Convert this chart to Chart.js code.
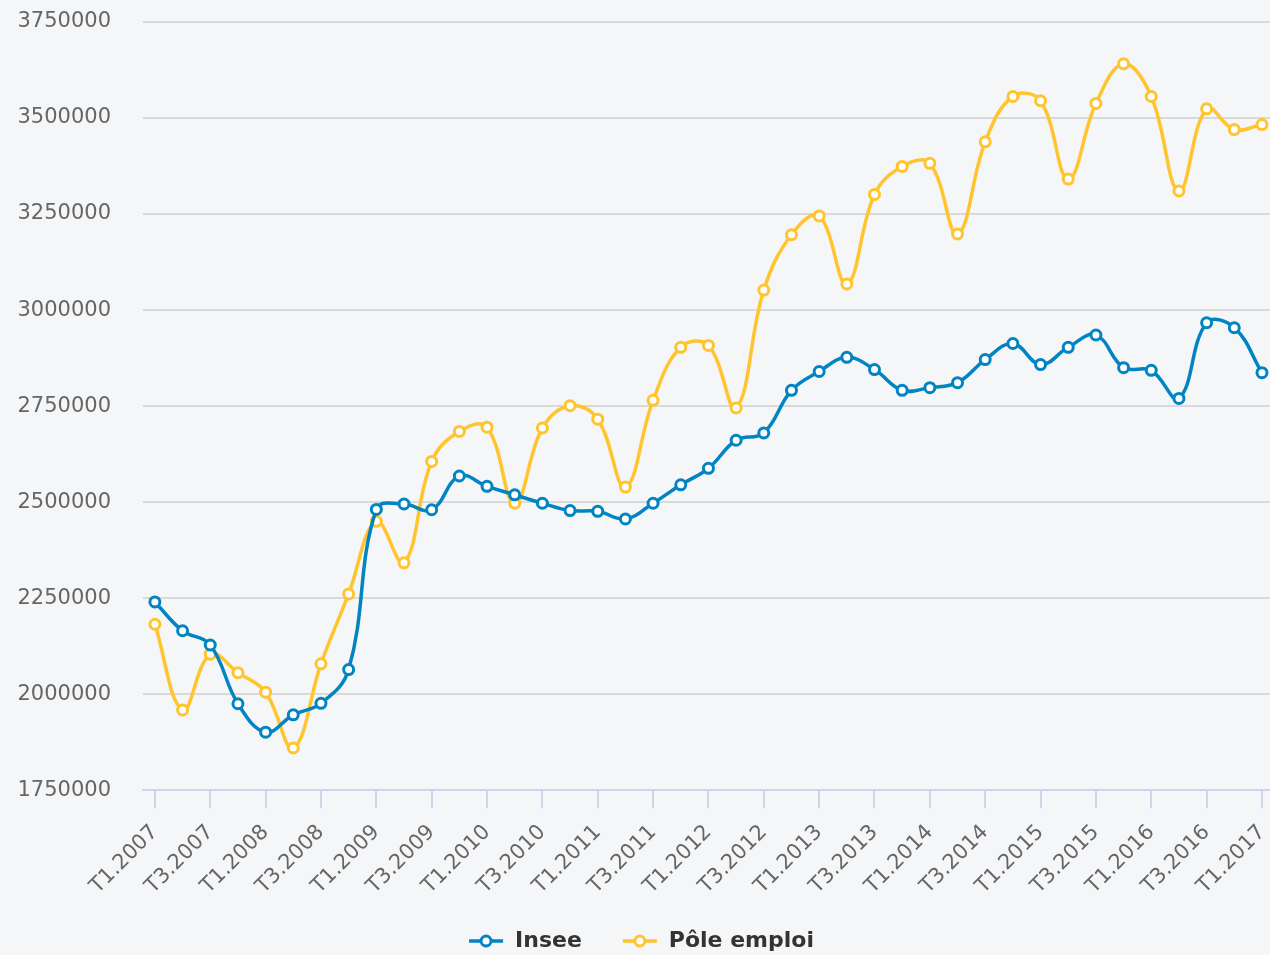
<!DOCTYPE html>
<html>
<head>
<meta charset="utf-8">
<script src="https://cdn.jsdelivr.net/npm/chart.js@4/dist/chart.umd.min.js"></script>
<style>
  html, body { margin: 0; padding: 0; background: #f5f6f8; }
  #wrap { width: 1270px; height: 955px; position: relative; }
</style>
</head>
<body>
<div id="wrap"><canvas id="c" width="1270" height="955"></canvas></div>
<script>
const categories = [
  'T1.2007','T2.2007','T3.2007','T4.2007',
  'T1.2008','T2.2008','T3.2008','T4.2008',
  'T1.2009','T2.2009','T3.2009','T4.2009',
  'T1.2010','T2.2010','T3.2010','T4.2010',
  'T1.2011','T2.2011','T3.2011','T4.2011',
  'T1.2012','T2.2012','T3.2012','T4.2012',
  'T1.2013','T2.2013','T3.2013','T4.2013',
  'T1.2014','T2.2014','T3.2014','T4.2014',
  'T1.2015','T2.2015','T3.2015','T4.2015',
  'T1.2016','T2.2016','T3.2016','T4.2016',
  'T1.2017'
];
const insee = [
  2240000, 2165000, 2128000, 1975000,
  1901000, 1946000, 1976000, 2064000,
  2481000, 2495000, 2480000, 2568000,
  2541000, 2519000, 2497000, 2478000,
  2476000, 2456000, 2497000, 2545000,
  2588000, 2661000, 2680000, 2791000,
  2840000, 2877000, 2845000, 2791000,
  2798000, 2811000, 2871000, 2913000,
  2858000, 2903000, 2935000, 2850000,
  2843000, 2770000, 2967000, 2954000,
  2837000
];
const poleEmploi = [
  2182000, 1959000, 2104000, 2056000,
  2005000, 1860000, 2079000, 2261000,
  2450000, 2342000, 2606000, 2684000,
  2695000, 2497000, 2693000, 2751000,
  2716000, 2539000, 2765000, 2903000,
  2908000, 2745000, 3052000, 3196000,
  3245000, 3068000, 3301000, 3374000,
  3382000, 3198000, 3438000, 3556000,
  3545000, 3341000, 3538000, 3641000,
  3556000, 3310000, 3524000, 3470000,
  3483000
];
const yTicks = [1750000, 2000000, 2250000, 2500000, 2750000, 3000000, 3250000, 3500000, 3750000];
const seriesNames = ['Insee', 'Pôle emploi'];
const colors = ['#0084c2', '#ffc42e'];

function legendSymbol(color) {
  const cv = document.createElement('canvas');
  cv.width = 36; cv.height = 16;
  const g = cv.getContext('2d');
  g.strokeStyle = color; g.lineWidth = 3.5;
  g.beginPath(); g.moveTo(1, 8); g.lineTo(35, 8); g.stroke();
  g.beginPath(); g.arc(18, 8, 5, 0, Math.PI * 2);
  g.fillStyle = '#ffffff'; g.fill();
  g.lineWidth = 3; g.stroke();
  return cv;
}
const symbols = colors.map(legendSymbol);

function makeDataset(name, values, color) {
  return {
    label: name,
    data: values.map((v, i) => ({ x: i, y: v })),
    borderColor: color,
    backgroundColor: color,
    borderWidth: 3.5,
    tension: 0.4,
    pointRadius: 5,
    pointHoverRadius: 5,
    pointBorderWidth: 3,
    pointBackgroundColor: '#ffffff',
    pointBorderColor: color,
    clip: false
  };
}

const FONT = '"DejaVu Sans", "Liberation Sans", sans-serif';

new Chart(document.getElementById('c'), {
  type: 'line',
  data: {
    datasets: [
      makeDataset(seriesNames[0], insee, colors[0]),
      makeDataset(seriesNames[1], poleEmploi, colors[1])
    ]
  },
  options: {
    responsive: false,
    animation: false,
    layout: { autoPadding: false, padding: { top: 22, right: 0, left: 12, bottom: -7 } },
    plugins: {
      tooltip: { enabled: false },
      legend: {
        position: 'bottom',
        align: 'center',
        labels: {
          usePointStyle: true,
          pointStyleWidth: 36,
          padding: 40,
          color: '#333333',
          font: { family: FONT, size: 22, weight: 'bold' },
          generateLabels(chart) {
            return chart.data.datasets.map((ds, i) => ({
              text: ds.label,
              fillStyle: colors[i],
              strokeStyle: colors[i],
              lineWidth: 0,
              pointStyle: symbols[i],
              hidden: false,
              datasetIndex: i,
              fontColor: '#333333'
            }));
          }
        }
      }
    },
    scales: {
      x: {
        type: 'linear',
        min: -0.43,
        max: 40.29,
        afterBuildTicks(scale) {
          scale.ticks = categories
            .map((c, i) => ({ value: i }))
            .filter(t => t.value % 2 === 0);
        },
        afterFit(scale) { scale.paddingRight = 0; scale.paddingLeft = 0; scale.height -= 21; },
        ticks: {
          autoSkip: false,
          includeBounds: false,
          maxRotation: 45,
          minRotation: 45,
          padding: 12,
          color: '#666666',
          font: { family: FONT, size: 21 },
          callback: (v) => categories[v] ?? ''
        },
        grid: {
          drawOnChartArea: false,
          drawTicks: true,
          tickLength: 18,
          color: '#ccd6eb',
          lineWidth: 2
        },
        border: { display: true, color: '#ccd6eb', width: 2 }
      },
      y: {
        min: yTicks[0],
        max: yTicks[yTicks.length - 1],
        afterBuildTicks(scale) {
          scale.ticks = yTicks.map(v => ({ value: v }));
        },
        afterFit(scale) { scale.width = 131; scale.paddingTop = 0; scale.paddingBottom = 0; },
        ticks: {
          padding: 32,
          color: '#666666',
          font: { family: FONT, size: 21 },
          callback: (v) => String(v)
        },
        grid: {
          drawTicks: false,
          color: '#d9d9d9',
          lineWidth: 2
        },
        border: { display: false }
      }
    }
  }
});
</script>
</body>
</html>
